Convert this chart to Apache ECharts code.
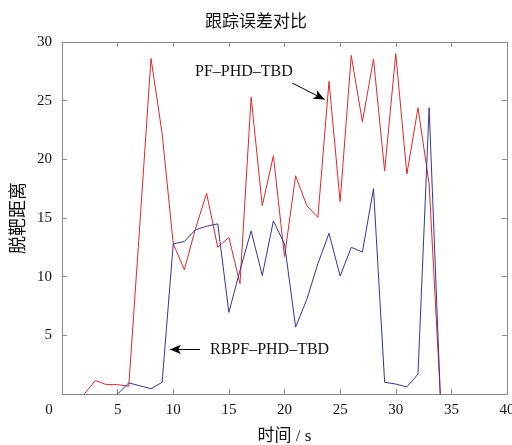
<!DOCTYPE html>
<html>
<head>
<meta charset="utf-8">
<script src="https://cdn.jsdelivr.net/npm/echarts@6/dist/echarts.min.js"></script>
<style>
  html, body { margin: 0; padding: 0; background: #fff; }
  #main { width: 512px; height: 445px; }
</style>
</head>
<body>
<div id="main"></div>
<script>
// 数据 ---------------------------------------------------------------
// PF-PHD-TBD 红线 (t = 2 ... 34)
var pfTimes = [2, 3, 4, 5, 6, 7, 8, 9, 10, 11, 12, 13, 14, 15, 16, 17, 18,
    19, 20, 21, 22, 23, 24, 25, 26, 27, 28, 29, 30, 31, 32, 33, 34];
var pfValues = [0, 1.15, 0.8, 0.8, 0.65, 14.5, 28.6, 22.2,
    12.8, 10.6, 14.1, 17.1, 12.5, 13.35, 9.4, 25.3, 16.05, 20.3,
    11.7, 18.6, 16.05, 15.05, 26.65, 16.4, 28.85, 23.2, 28.55, 19.0,
    29.0, 18.75, 24.4, 17.9, 0];

// RBPF-PHD-TBD 蓝线 (t = 5 ... 34)
var rbpfTimes = [5, 6, 7, 8, 9, 10, 11, 12, 13, 14, 15, 16, 17, 18, 19,
    20, 21, 22, 23, 24, 25, 26, 27, 28, 29, 30, 31, 32, 33, 34];
var rbpfValues = [0, 0.95, 0.7, 0.45, 1.0,
    12.8, 13.0, 14.0, 14.3, 14.5, 6.95, 10.55, 13.9, 10.1, 14.75,
    12.8, 5.7, 8.05, 11.1, 13.7, 10.05, 12.5, 12.1, 17.5, 1.0,
    0.85, 0.6, 1.7, 24.4, 0];

var xTicks = [0, 5, 10, 15, 20, 25, 30, 35, 40];
var yTicks = [0, 5, 10, 15, 20, 25, 30];

// 标注箭头 [起点, 终点]
var pfArrow = [[20.7, 26.5], [23.6, 25.1]];
var rbpfArrow = [[12.4, 3.8], [9.7, 3.8]];

function pairs(xs, ys) {
    return xs.map(function (x, k) { return [x, ys[k]]; });
}

var numFont = 'Liberation Serif';
var cjkFont = 'Liberation Serif, Noto Sans CJK SC';
var axisColor = '#8a8a8a';

var myChart = echarts.init(document.getElementById('main'));

// 四周的坐标轴 (MATLAB 风格, 刻度朝内)
function boxAxis(extra) {
    var base = {
        type: 'value',
        interval: 5,
        axisLine: { show: true, onZero: false, lineStyle: { color: axisColor, width: 1 } },
        axisTick: { show: true, inside: true, length: 5, lineStyle: { color: axisColor } },
        splitLine: { show: false }
    };
    for (var k in extra) base[k] = extra[k];
    return base;
}

var option = {
    animation: false,
    title: {
        text: '跟踪误差对比',
        left: 'center',
        top: 7,
        textStyle: { fontFamily: 'Noto Sans CJK SC', fontSize: 17, fontWeight: 'normal', color: '#111' }
    },
    grid: { left: 62, right: 5, top: 42, bottom: 51, containLabel: false, outerBoundsMode: 'none' },
    xAxis: [boxAxis({
        min: xTicks[0], max: xTicks[xTicks.length - 1],
        name: '时间 / s',
        nameLocation: 'middle',
        nameGap: 34,
        nameTextStyle: { fontFamily: cjkFont, fontSize: 17, color: '#111' },
        axisLabel: {
            margin: 9, fontFamily: numFont, fontSize: 15, color: '#111',
            formatter: function (v) { return v === 0 ? '{z|0}' : String(v); },
            rich: { z: { fontFamily: numFont, fontSize: 15, color: '#111', padding: [0, 26, 6, 0] } }
        }
    }), boxAxis({
        position: 'top',
        min: xTicks[0], max: xTicks[xTicks.length - 1],
        axisLabel: { show: false }
    })],
    yAxis: [boxAxis({
        min: yTicks[0], max: yTicks[yTicks.length - 1],
        name: '脱靶距离',
        nameLocation: 'middle',
        nameGap: 36,
        nameTextStyle: { fontFamily: 'Noto Sans CJK SC', fontSize: 18, color: '#111' },
        axisLabel: {
            margin: 10, fontFamily: numFont, fontSize: 15, color: '#111',
            formatter: function (v) { return v === 0 ? '' : String(v); }
        }
    }), boxAxis({
        position: 'right',
        min: yTicks[0], max: yTicks[yTicks.length - 1],
        axisLabel: { show: false }
    })],
    series: [{
        name: 'PF-PHD-TBD',
        type: 'line',
        data: pairs(pfTimes, pfValues),
        showSymbol: false,
        lineStyle: { color: '#e3262b', width: 1 },
        itemStyle: { color: '#e3262b' },
        markLine: {
            silent: true,
            symbol: ['none', 'arrow'],
            symbolSize: [7, 11],
            label: { show: false },
            lineStyle: { color: '#000', width: 1, type: 'solid' },
            data: [[{ coord: pfArrow[0] }, { coord: pfArrow[1] }]]
        }
    }, {
        name: 'RBPF-PHD-TBD',
        type: 'line',
        data: pairs(rbpfTimes, rbpfValues),
        showSymbol: false,
        lineStyle: { color: '#34359a', width: 1 },
        itemStyle: { color: '#34359a' },
        markLine: {
            silent: true,
            symbol: ['none', 'arrow'],
            symbolSize: [7, 11],
            label: { show: false },
            lineStyle: { color: '#000', width: 1, type: 'solid' },
            data: [[{ coord: rbpfArrow[0] }, { coord: rbpfArrow[1] }]]
        }
    }],
    graphic: [{
        type: 'text', left: 195, top: 64,
        style: { text: 'PF–PHD–TBD', font: '16px "Liberation Serif"', fill: '#111' }
    }, {
        type: 'text', left: 210, top: 342,
        style: { text: 'RBPF–PHD–TBD', font: '16px "Liberation Serif"', fill: '#111' }
    }]
};

myChart.setOption(option);
</script>
</body>
</html>
